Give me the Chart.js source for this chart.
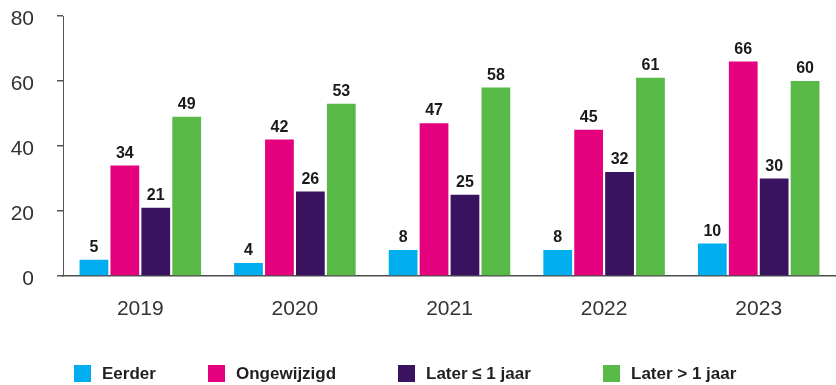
<!DOCTYPE html>
<html>
<head>
<meta charset="utf-8">
<script src="https://cdn.jsdelivr.net/npm/chart.js@4"></script>
<style>
  body { margin: 0; background: #fff; }
  #wrap { position: relative; width: 836px; height: 385px; }
  #legend {
    position: absolute; left: 74px; top: 365px;
    display: grid; grid-template-columns: 134px 190px 205px auto;
    font: bold 17px "Liberation Sans", Arial, sans-serif; color: #231f20;
  }
  .item { display: flex; align-items: center; height: 17px; }
  .box { width: 17px; height: 17px; margin-right: 11px; }
</style>
</head>
<body>
<div id="wrap">
  <canvas id="chart" width="836" height="385"></canvas>
  <div id="legend"></div>
</div>
<script>
// Jaren op de x-as
var years = ['2019', '2020', '2021', '2022', '2023']

// Reeksen (percentages)
var seriesNames = ['Eerder', 'Ongewijzigd', 'Later ≤ 1 jaar', 'Later > 1 jaar']
var eerder = [5, 4, 8, 8, 10]
var ongewijzigd = [34, 42, 47, 45, 66]
var laterKort = [21, 26, 25, 32, 30]
var laterLang = [49, 53, 58, 61, 60]

// Kleuren per reeks
var colors = ['#00aeef', '#e5007d', '#39135f', '#58b947']

var fontFamily = '"Liberation Sans", Arial, sans-serif'

// Waarden boven de staven
var valueLabels = {
  id: 'valueLabels',
  afterDatasetsDraw(chart) {
    var ctx = chart.ctx
    ctx.save()
    ctx.font = 'bold 16px ' + fontFamily
    ctx.fillStyle = '#1a1a1a'
    ctx.textAlign = 'center'
    ctx.textBaseline = 'alphabetic'
    chart.data.datasets.forEach((ds, i) => {
      chart.getDatasetMeta(i).data.forEach((bar, j) => {
        ctx.fillText(ds.data[j], bar.x, bar.y - 8)
      })
    })
    ctx.restore()
  }
}

window.onload = function () {
  var values = [eerder, ongewijzigd, laterKort, laterLang]

  var chart = new Chart(document.getElementById('chart'), {
    type: 'bar',
    data: {
      labels: years,
      datasets: values.map((data, i) => ({
        label: seriesNames[i],
        data: data,
        backgroundColor: colors[i],
        borderWidth: 0,
        categoryPercentage: 0.8,
        barPercentage: 0.93
      }))
    },
    options: {
      responsive: false,
      animation: false,
      layout: { padding: { left: 11, right: 0, top: 16, bottom: 64 } },
      plugins: {
        legend: { display: false },
        tooltip: { enabled: false }
      },
      scales: {
        x: {
          grid: { display: false, drawTicks: false },
          border: { display: true, color: '#4d4d4d', width: 1.5 },
          ticks: { color: '#333', padding: 21, font: { family: fontFamily, size: 21 } },
          afterFit: (scale) => { scale.height = 45 }
        },
        y: {
          min: 0,
          max: 80,
          grid: { drawOnChartArea: false, drawTicks: true, tickLength: 6, color: '#555', lineWidth: 1.5 },
          border: { display: true, color: '#555', width: 1 },
          ticks: { stepSize: 20, color: '#333', padding: 23, labelOffset: 3, font: { family: fontFamily, size: 21 } },
          afterFit: (scale) => {
            scale.width = 52
            scale.paddingTop = 13
            scale.paddingBottom = 13
          }
        }
      }
    },
    plugins: [valueLabels]
  })

  // Legenda onder de grafiek
  var legend = document.getElementById('legend')
  chart.data.datasets.forEach((ds) => {
    var item = document.createElement('div')
    item.className = 'item'
    var box = document.createElement('span')
    box.className = 'box'
    box.style.background = ds.backgroundColor
    var text = document.createElement('span')
    text.textContent = ds.label
    item.appendChild(box)
    item.appendChild(text)
    legend.appendChild(item)
  })
}
</script>
</body>
</html>
